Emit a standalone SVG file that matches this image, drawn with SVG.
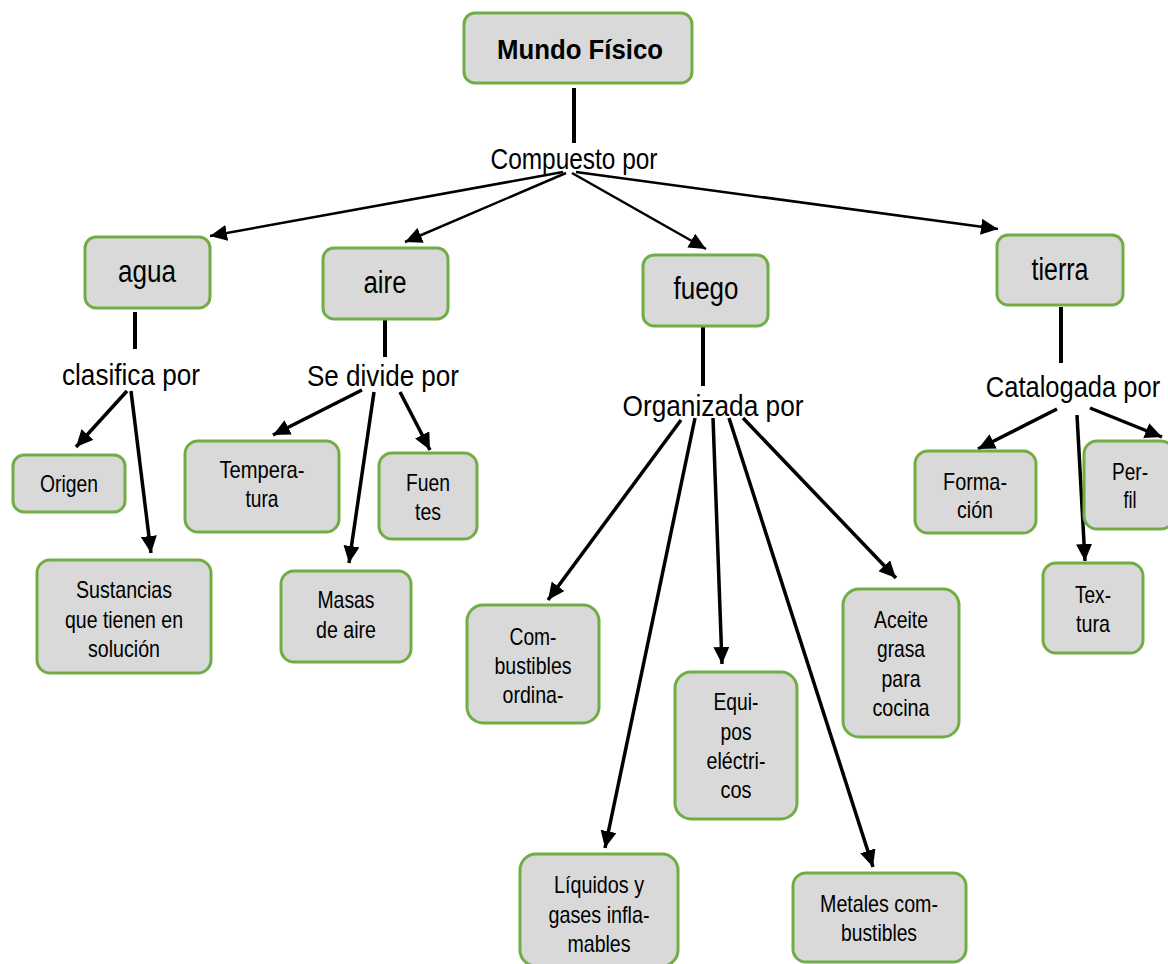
<svg xmlns="http://www.w3.org/2000/svg" width="1168" height="964" viewBox="0 0 1168 964">
<style>
.box{fill:#d9d9d9;stroke:#70ad47;stroke-width:3}
.t{font-family:"Liberation Sans",Arial,sans-serif;fill:#000;text-anchor:middle}
.big{font-size:31px}
.sm{font-size:24px}
.lbl{font-size:30px}
.bold{font-weight:bold;font-size:28px}
.c{stroke:#000;fill:none}
.a{stroke-width:3.5;marker-end:url(#ah)}
.a2{stroke-width:2.5;marker-end:url(#ah)}
</style>
<defs>
<marker id="ah" markerUnits="userSpaceOnUse" markerWidth="18" markerHeight="16" refX="17" refY="8" orient="auto">
<path d="M0,0 L17,8 L0,16 z" fill="#000"/>
</marker>
</defs>
<rect width="1168" height="964" fill="#fff"/>
<g id="connectors">
<line class="c" x1="574" y1="88" x2="574" y2="143" stroke-width="4"/>
<line class="c a2" x1="563" y1="172" x2="210" y2="236"/>
<line class="c a2" x1="566" y1="173" x2="405" y2="242"/>
<line class="c a2" x1="572" y1="173" x2="706" y2="249"/>
<line class="c a2" x1="576" y1="172" x2="998" y2="229"/>
<line class="c" x1="135" y1="312" x2="135" y2="349" stroke-width="4"/>
<line class="c a" x1="127" y1="391" x2="76" y2="447"/>
<line class="c a" x1="131" y1="391" x2="151" y2="553"/>
<line class="c" x1="385" y1="320" x2="385" y2="357" stroke-width="4"/>
<line class="c a" x1="362" y1="390" x2="273" y2="435"/>
<line class="c a" x1="374" y1="392" x2="349" y2="563"/>
<line class="c a" x1="400" y1="392" x2="430" y2="450"/>
<line class="c" x1="703" y1="327" x2="703" y2="386" stroke-width="4"/>
<line class="c a" x1="681" y1="420" x2="548" y2="600"/>
<line class="c a" x1="695" y1="418" x2="605" y2="848"/>
<line class="c a" x1="713" y1="418" x2="722" y2="664"/>
<line class="c a" x1="729" y1="418" x2="873" y2="867"/>
<line class="c a" x1="743" y1="418" x2="896" y2="578"/>
<line class="c" x1="1061" y1="307" x2="1061" y2="363" stroke-width="4"/>
<line class="c a" x1="1057" y1="409" x2="978" y2="449"/>
<line class="c a" x1="1077" y1="415" x2="1085" y2="561"/>
<line class="c a" x1="1090" y1="408" x2="1162" y2="437"/>
</g>
<g id="labels">
<text class="t lbl" x="574" y="169" textLength="167" lengthAdjust="spacingAndGlyphs">Compuesto por</text>
<text class="t lbl" x="131" y="385" textLength="138" lengthAdjust="spacingAndGlyphs">clasifica por</text>
<text class="t lbl" x="383" y="386" textLength="152" lengthAdjust="spacingAndGlyphs">Se divide por</text>
<text class="t lbl" x="713" y="416" textLength="181" lengthAdjust="spacingAndGlyphs">Organizada por</text>
<text class="t lbl" x="0" y="0" transform="translate(1073 397) scale(0.85 1)">Catalogada por</text>
</g>
<g id="mundo"><rect class="box" x="464" y="13" width="228" height="70" rx="11"/><text class="t bold" x="580" y="59" textLength="166" lengthAdjust="spacingAndGlyphs">Mundo Físico</text></g>
<g id="agua"><rect class="box" x="85" y="237" width="125" height="71" rx="11"/><text class="t big" x="147" y="282" textLength="58" lengthAdjust="spacingAndGlyphs">agua</text></g>
<g id="aire"><rect class="box" x="323" y="248" width="125" height="71" rx="11"/><text class="t big" x="385" y="293" textLength="43" lengthAdjust="spacingAndGlyphs">aire</text></g>
<g id="fuego"><rect class="box" x="643" y="255" width="125" height="71" rx="11"/><text class="t big" x="706" y="299" textLength="65" lengthAdjust="spacingAndGlyphs">fuego</text></g>
<g id="tierra"><rect class="box" x="997" y="235" width="126" height="70" rx="11"/><text class="t big" x="1060" y="280" textLength="57" lengthAdjust="spacingAndGlyphs">tierra</text></g>
<g id="origen"><rect class="box" x="13" y="455" width="112" height="57" rx="11"/><text class="t sm" x="69" y="492" textLength="58" lengthAdjust="spacingAndGlyphs">Origen</text></g>
<g id="sustancias"><rect class="box" x="37" y="560" width="174" height="113" rx="13"/>
<text class="t sm" x="124" y="598" textLength="96" lengthAdjust="spacingAndGlyphs">Sustancias</text>
<text class="t sm" x="124" y="628" textLength="118" lengthAdjust="spacingAndGlyphs">que tienen en</text>
<text class="t sm" x="124" y="657" textLength="72" lengthAdjust="spacingAndGlyphs">solución</text></g>
<g id="temperatura"><rect class="box" x="185" y="441" width="154" height="91" rx="13"/>
<text class="t sm" x="262" y="478" textLength="85" lengthAdjust="spacingAndGlyphs">Tempera-</text>
<text class="t sm" x="262" y="507" textLength="33" lengthAdjust="spacingAndGlyphs">tura</text></g>
<g id="fuentes"><rect class="box" x="379" y="453" width="98" height="86" rx="13"/>
<text class="t sm" x="428" y="491" textLength="44" lengthAdjust="spacingAndGlyphs">Fuen</text>
<text class="t sm" x="428" y="520" textLength="26" lengthAdjust="spacingAndGlyphs">tes</text></g>
<g id="masas"><rect class="box" x="281" y="571" width="130" height="91" rx="13"/>
<text class="t sm" x="346" y="608" textLength="57" lengthAdjust="spacingAndGlyphs">Masas</text>
<text class="t sm" x="346" y="638" textLength="60" lengthAdjust="spacingAndGlyphs">de aire</text></g>
<g id="combustibles"><rect class="box" x="467" y="605" width="132" height="118" rx="16"/>
<text class="t sm" x="533" y="645" textLength="47" lengthAdjust="spacingAndGlyphs">Com-</text>
<text class="t sm" x="533" y="674" textLength="77" lengthAdjust="spacingAndGlyphs">bustibles</text>
<text class="t sm" x="533" y="703" textLength="61" lengthAdjust="spacingAndGlyphs">ordina-</text></g>
<g id="equipos"><rect class="box" x="675" y="672" width="122" height="147" rx="16"/>
<text class="t sm" x="736" y="710" textLength="45" lengthAdjust="spacingAndGlyphs">Equi-</text>
<text class="t sm" x="736" y="740" textLength="31" lengthAdjust="spacingAndGlyphs">pos</text>
<text class="t sm" x="736" y="769" textLength="59" lengthAdjust="spacingAndGlyphs">eléctri-</text>
<text class="t sm" x="736" y="798" textLength="31" lengthAdjust="spacingAndGlyphs">cos</text></g>
<g id="aceite"><rect class="box" x="843" y="589" width="116" height="148" rx="16"/>
<text class="t sm" x="901" y="628" textLength="54" lengthAdjust="spacingAndGlyphs">Aceite</text>
<text class="t sm" x="901" y="657" textLength="48" lengthAdjust="spacingAndGlyphs">grasa</text>
<text class="t sm" x="901" y="687" textLength="39" lengthAdjust="spacingAndGlyphs">para</text>
<text class="t sm" x="901" y="716" textLength="57" lengthAdjust="spacingAndGlyphs">cocina</text></g>
<g id="liquidos"><rect class="box" x="520" y="854" width="158" height="112" rx="16"/>
<text class="t sm" x="599" y="893" textLength="90" lengthAdjust="spacingAndGlyphs">Líquidos y</text>
<text class="t sm" x="599" y="923" textLength="101" lengthAdjust="spacingAndGlyphs">gases infla-</text>
<text class="t sm" x="599" y="952" textLength="63" lengthAdjust="spacingAndGlyphs">mables</text></g>
<g id="metales"><rect class="box" x="793" y="873" width="173" height="89" rx="13"/>
<text class="t sm" x="879" y="912" textLength="118" lengthAdjust="spacingAndGlyphs">Metales com-</text>
<text class="t sm" x="879" y="941" textLength="76" lengthAdjust="spacingAndGlyphs">bustibles</text></g>
<g id="formacion"><rect class="box" x="915" y="451" width="121" height="82" rx="13"/>
<text class="t sm" x="975" y="490" textLength="64" lengthAdjust="spacingAndGlyphs">Forma-</text>
<text class="t sm" x="975" y="518" textLength="36" lengthAdjust="spacingAndGlyphs">ción</text></g>
<g id="perfil"><rect class="box" x="1084" y="441" width="90" height="88" rx="13"/>
<text class="t sm" x="1130" y="480" textLength="36" lengthAdjust="spacingAndGlyphs">Per-</text>
<text class="t sm" x="1130" y="508" textLength="13" lengthAdjust="spacingAndGlyphs">fil</text></g>
<g id="textura"><rect class="box" x="1043" y="563" width="100" height="90" rx="13"/>
<text class="t sm" x="1093" y="603" textLength="36" lengthAdjust="spacingAndGlyphs">Tex-</text>
<text class="t sm" x="1093" y="632" textLength="34" lengthAdjust="spacingAndGlyphs">tura</text></g>
</svg>
